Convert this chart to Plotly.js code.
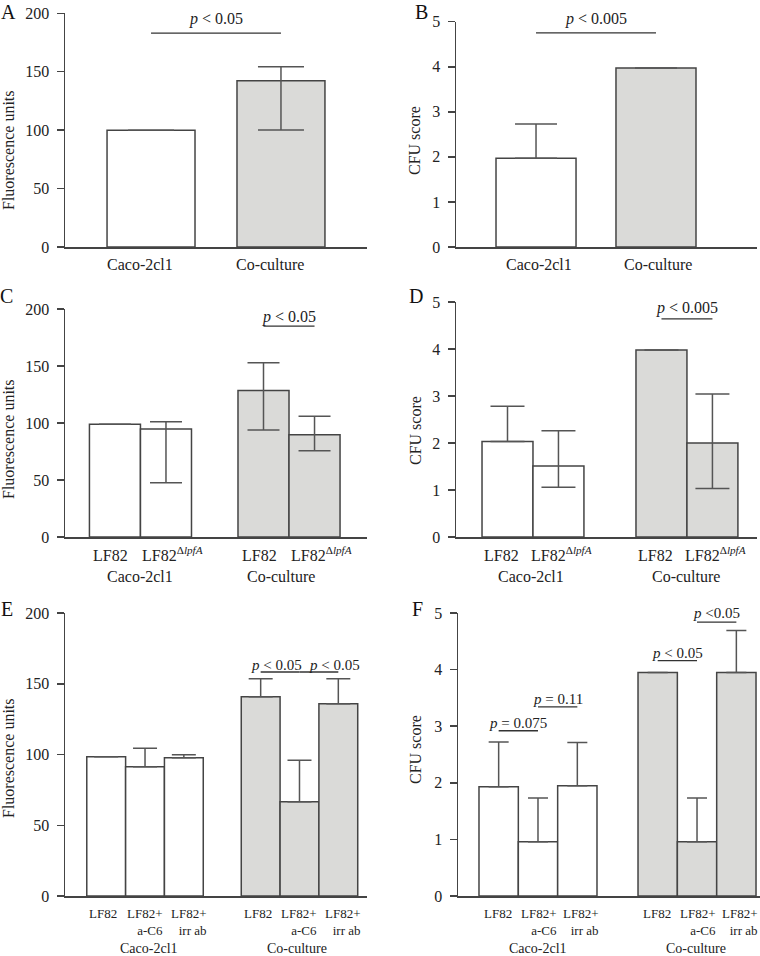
<!DOCTYPE html>
<html>
<head>
<meta charset="utf-8">
<script src="https://cdn.plot.ly/plotly-3.0.1.min.js"></script>
<style>html,body{margin:0;padding:0;background:#fff;}#chart{width:760px;height:956px;}</style>
</head>
<body>
<div id="chart"></div>
<script>
// ---------- DATA ----------
const groups = ['Caco-2cl1', 'Co-culture'];

// Panel A (fluorescence, single strain)
const aValues = [100, 142.3];
const aErrPlus = [0, 12];
const aErrMinus = [0, 42.2];

// Panel B (CFU score, single strain)
const bValues = [1.97, 3.97];
const bErrPlus = [0.76, 0];
const bErrMinus = [0, 0];

// Panel C (fluorescence, LF82 vs LF82 ΔlpfA)
const cdStrains = ['LF82', 'LF82<sup>Δ<i>lpfA</i></sup>'];
const cLF82 = [99, 128.4];
const cLF82Plus = [0, 24.5];
const cLF82Minus = [0, 34.5];
const cMutant = [94.7, 89.8];
const cMutantPlus = [6.3, 16.2];
const cMutantMinus = [47.1, 14.1];

// Panel D (CFU score, LF82 vs LF82 ΔlpfA)
const dLF82 = [2.03, 3.98];
const dLF82Plus = [0.75, 0];
const dLF82Minus = [0, 0];
const dMutant = [1.51, 2.0];
const dMutantPlus = [0.75, 1.04];
const dMutantMinus = [0.45, 0.97];

// Panel E (fluorescence, antibody treatments)
const efTreatments = ['LF82', 'LF82+<br>a-C6', 'LF82+<br>irr ab'];
const eLF82 = [98.4, 140.8];
const eLF82Plus = [0, 12.8];
const eAC6 = [91.4, 66.6];
const eAC6Plus = [13.0, 29.3];
const eIrr = [97.7, 135.9];
const eIrrPlus = [2.2, 17.7];

// Panel F (CFU score, antibody treatments)
const fLF82 = [1.93, 3.95];
const fLF82Plus = [0.79, 0];
const fAC6 = [0.96, 0.96];
const fAC6Plus = [0.77, 0.77];
const fIrr = [1.95, 3.95];
const fIrrPlus = [0.76, 0.74];

// significance brackets: bar indices (group-major) and level
const aSig = [{from: 0, to: 1, level: 183, text: '<i>p</i> &lt; 0.05'}];
const bSig = [{from: 0, to: 1, level: 4.75, text: '<i>p</i> &lt; 0.005'}];
const cSig = [{from: 2, to: 3, level: 185, text: '<i>p</i> &lt; 0.05'}];
const dSig = [{from: 2, to: 3, level: 4.64, text: '<i>p</i> &lt; 0.005'}];
const eSig = [{from: 3, to: 4, level: 158.3, text: '<i>p</i> &lt; 0.05'},
              {from: 4, to: 5, level: 158.3, text: '<i>p</i> &lt; 0.05'}];
const fSig = [{from: 0, to: 1, level: 2.92, text: '<i>p</i> = 0.075'},
              {from: 1, to: 2, level: 3.34, text: '<i>p</i> = 0.11'},
              {from: 3, to: 4, level: 4.16, text: '<i>p</i> &lt; 0.05'},
              {from: 4, to: 5, level: 4.84, text: '<i>p</i> &lt;0.05'}];

// ---------- STYLE / LAYOUT ----------
const W = 760, H = 956;
const FONT = 'Liberation Serif, Times New Roman, serif';
const groupFill = ['#ffffff', '#dadad8'];
const lineCol = '#444444';
const errCol = '#555555';

const panels = [
  {label: 'A', lx: 8, ly: 12, xpx: [65, 367], ypx: [13.3, 247], xr: [-0.662, 1.662], yr: [0, 200], dtick: 50, G: 0.677,
   ytitle: 'Fluorescence units', tx: 8, ty: 150, capw: 23, sig: aSig, sigShift: [3],
   series: [{vals: aValues, plus: aErrPlus, minus: aErrMinus}], subLabels: null,
   groupY: 265, groupSize: 16, groupShift: [-11, -11], sigSize: 16},
  {label: 'B', lx: 422, ly: 12, xpx: [456, 757], ypx: [21.7, 247], xr: [-0.667, 1.842], yr: [0, 5], dtick: 1, G: 0.667,
   ytitle: 'CFU score', tx: 415, ty: 141, capw: 21, sig: bSig, sigShift: [3],
   series: [{vals: bValues, plus: bErrPlus, minus: bErrMinus}], subLabels: null,
   groupY: 265, groupSize: 16, groupShift: [3, 2], sigSize: 16},
  {label: 'C', lx: 7, ly: 296, xpx: [65, 367], ypx: [309, 537], xr: [-0.508, 1.525], yr: [0, 200], dtick: 50, G: 0.687,
   ytitle: 'Fluorescence units', tx: 8, ty: 439, capw: 16, sig: cSig, sigShift: [-2],
   series: [{vals: cLF82, plus: cLF82Plus, minus: cLF82Minus},
            {vals: cMutant, plus: cMutantPlus, minus: cMutantMinus}],
   subLabels: cdStrains, subShift: [-4, 7], subY: 566, subAnchor: 'bottom', subSize: 16,
   groupY: 576, groupSize: 16, groupShift: [0, -8], sigSize: 16},
  {label: 'D', lx: 416, ly: 296, xpx: [456, 757], ypx: [302, 537], xr: [-0.5, 1.455], yr: [0, 5], dtick: 1, G: 0.662,
   ytitle: 'CFU score', tx: 415, ty: 431, capw: 17, sig: dSig, sigShift: [0],
   series: [{vals: dLF82, plus: dLF82Plus, minus: dLF82Minus},
            {vals: dMutant, plus: dMutantPlus, minus: dMutantMinus}],
   subLabels: cdStrains, subShift: [-6, 3], subY: 566, subAnchor: 'bottom', subSize: 16,
   groupY: 576, groupSize: 16, groupShift: [-2, -1], sigSize: 16},
  {label: 'E', lx: 7, ly: 609, xpx: [65, 367], ypx: [613, 896], xr: [-0.518, 1.437], yr: [0, 200], dtick: 50, G: 0.754,
   ytitle: 'Fluorescence units', tx: 8, ty: 758, capw: 12, sig: eSig, sigShift: [-3, -3], sigX: [-4, 16],
   series: [{vals: eLF82, plus: eLF82Plus, minus: [0, 0]},
            {vals: eAC6, plus: eAC6Plus, minus: [0, 0]},
            {vals: eIrr, plus: eIrrPlus, minus: [0, 0]}],
   subLabels: efTreatments, subShift: [-3, 0, 5], subY: 904, subAnchor: 'top', subSize: 13,
   groupY: 948, groupSize: 14, groupShift: [4, -2], sigSize: 15},
  {label: 'F', lx: 417, ly: 609, xpx: [458, 760], ypx: [613, 896], xr: [-0.503, 1.396], yr: [0, 5], dtick: 1, G: 0.742,
   ytitle: 'CFU score', tx: 415, ty: 750, capw: 10, sig: fSig, sigShift: [-2, -2, -2, -1],
   series: [{vals: fLF82, plus: fLF82Plus, minus: [0, 0]},
            {vals: fAC6, plus: fAC6Plus, minus: [0, 0]},
            {vals: fIrr, plus: fIrrPlus, minus: [0, 0]}],
   subLabels: efTreatments, subShift: [-1, 1, 4], subY: 904, subAnchor: 'top', subSize: 13,
   groupY: 948, groupSize: 14, groupShift: [0, -1], sigSize: 15}
];

const traces = [];
const annotations = [];
const shapes = [];
const layout = {
  width: W, height: H,
  margin: {l: 0, r: 0, t: 0, b: 0},
  paper_bgcolor: '#ffffff', plot_bgcolor: 'rgba(0,0,0,0)',
  showlegend: false,
  barmode: 'overlay',
  font: {family: FONT, color: '#222222', size: 16},
  annotations: annotations, shapes: shapes
};

panels.forEach((p, i) => {
  const n = i + 1;
  const xa = n === 1 ? 'x' : 'x' + n;
  const ya = n === 1 ? 'y' : 'y' + n;
  const xKey = n === 1 ? 'xaxis' : 'xaxis' + n;
  const yKey = n === 1 ? 'yaxis' : 'yaxis' + n;
  layout[xKey] = {
    domain: [p.xpx[0] / W, p.xpx[1] / W], anchor: ya, range: p.xr,
    type: 'category', showticklabels: false, ticks: '', showgrid: false, zeroline: false,
    showline: true, linecolor: lineCol, linewidth: 1.5, fixedrange: true
  };
  layout[yKey] = {
    domain: [1 - p.ypx[1] / H, 1 - p.ypx[0] / H], anchor: xa, range: p.yr,
    tick0: 0, dtick: p.dtick, ticks: 'outside', ticklen: 7, tickwidth: 1.5, tickcolor: lineCol,
    showline: true, linecolor: lineCol, linewidth: 1.5, showgrid: false, zeroline: false,
    tickfont: {family: FONT, size: 16, color: '#222222'}, ticklabelstandoff: 4, fixedrange: true
  };
  const k = p.series.length;
  const w = p.G / k;
  const centerOf = (idx) => { const g = Math.floor(idx / k), s = idx % k; return g - p.G / 2 + (s + 0.5) * w; };
  p.series.forEach((s, si) => {
    traces.push({
      type: 'bar', x: groups, y: s.vals, xaxis: xa, yaxis: ya,
      width: w, offset: -p.G / 2 + si * w,
      marker: {color: groupFill, line: {color: lineCol, width: 1.5}},
      error_y: {type: 'data', symmetric: false, array: s.plus, arrayminus: s.minus,
                color: errCol, thickness: 1.5, width: p.capw},
      hoverinfo: 'none', cliponaxis: false
    });
  });
  // panel label
  annotations.push({xref: 'paper', yref: 'paper', x: p.lx / W, y: 1 - p.ly / H, xanchor: 'center', yanchor: 'middle',
    text: p.label, showarrow: false, font: {family: FONT, size: 20, color: '#111111'}});
  // y title
  annotations.push({xref: 'paper', yref: 'paper', x: p.tx / W, y: 1 - p.ty / H, xanchor: 'center', yanchor: 'middle',
    text: p.ytitle, textangle: -90, showarrow: false, font: {family: FONT, size: 16, color: '#222222'}});
  // group labels
  groups.forEach((g, gi) => {
    annotations.push({xref: xa, yref: 'paper', x: gi, y: 1 - p.groupY / H, xanchor: 'center', yanchor: 'middle',
      xshift: p.groupShift[gi], text: g, showarrow: false, font: {family: FONT, size: p.groupSize, color: '#222222'}});
  });
  // sub labels
  if (p.subLabels) {
    groups.forEach((g, gi) => {
      p.subLabels.forEach((lab, si) => {
        annotations.push({xref: xa, yref: 'paper', x: centerOf(gi * k + si), y: 1 - p.subY / H,
          xanchor: 'center', yanchor: p.subAnchor, align: 'right', text: lab, showarrow: false,
          xshift: p.subShift[si],
          font: {family: FONT, size: p.subSize, color: '#222222'}});
      });
    });
  }
  // significance lines
  p.sig.forEach((sg, j) => {
    const x0 = centerOf(sg.from), x1 = centerOf(sg.to);
    shapes.push({type: 'line', xref: xa, yref: ya, x0: x0, x1: x1, y0: sg.level, y1: sg.level,
      line: {color: '#333333', width: 1.3}});
    annotations.push({xref: xa, yref: ya, x: (x0 + x1) / 2, y: sg.level, xanchor: 'center', yanchor: 'bottom',
      yshift: p.sigShift[j], xshift: p.sigX ? p.sigX[j] : 0, text: sg.text, showarrow: false,
      font: {family: FONT, size: p.sigSize, color: '#222222'}});
  });
});

Plotly.newPlot('chart', traces, layout, {staticPlot: true, displayModeBar: false});
</script>
</body>
</html>
